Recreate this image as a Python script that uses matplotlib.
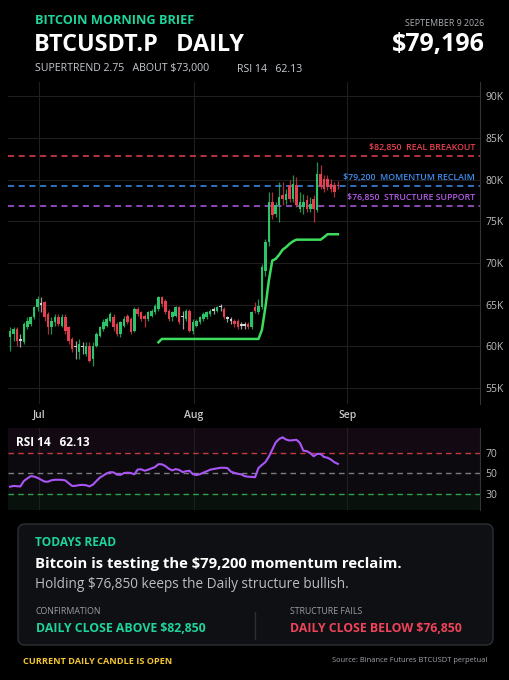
import numpy as np
import matplotlib.pyplot as plt
from matplotlib.patches import FancyBboxPatch

plt.rcParams['font.family'] = ['Open Sans', 'DejaVu Sans']

# daily candles, price in thousands of USD
opens = [61.1, 61.5, 62.1, 60.7, 60.5, 62.3, 62.7, 63.5, 64.7, 65.0,
         65.3, 63.9, 62.3, 62.9, 63.5, 62.5, 63.5, 62.3, 60.9, 59.9,
         59.3, 59.9, 59.1, 60.1, 58.5, 60.1, 61.3, 62.1, 62.5, 63.1,
         63.5, 62.7, 61.5, 62.5, 63.7, 63.3, 61.9, 64.5, 64.1, 63.7,
         63.3, 63.7, 64.1, 64.5, 65.9, 65.5, 64.3, 63.5, 63.7, 64.7,
         63.5, 63.3, 64.3, 61.9, 62.5, 62.9, 63.3, 63.5, 63.9, 64.3,
         64.3, 64.7, 64.5, 63.3, 63.1, 63.1, 63.1, 62.5, 62.5, 62.7,
         62.3, 64.7, 64.1, 64.7, 69.1, 72.5, 77.3, 75.9, 76.9, 78.1,
         77.5, 79.3, 77.7, 79.3, 76.5, 76.7, 77.5, 76.5, 77.7, 76.3,
         80.7, 80.1, 80.1, 79.5, 79.3, 79.4]
closes = [61.9, 62.1, 60.7, 60.8, 62.7, 63.1, 63.5, 64.7, 65.7, 65.1,
          63.5, 62.3, 63.1, 63.5, 62.7, 63.5, 61.9, 60.7, 59.7, 60.0,
          60.3, 60.0, 60.1, 58.3, 60.1, 61.5, 62.3, 62.9, 63.3, 63.9,
          62.3, 61.5, 62.9, 63.3, 62.9, 61.7, 64.5, 63.9, 63.3, 63.3,
          64.1, 64.3, 64.9, 65.9, 65.1, 64.1, 63.3, 64.1, 64.7, 62.9,
          63.6, 64.3, 61.9, 62.9, 63.1, 63.5, 63.9, 64.1, 64.3, 64.4,
          64.7, 64.8, 63.5, 63.4, 63.2, 62.7, 62.3, 62.6, 62.6, 62.3,
          64.1, 64.3, 64.9, 69.5, 72.5, 77.3, 75.7, 76.9, 77.9, 77.7,
          78.3, 77.7, 79.5, 76.9, 77.3, 77.3, 76.5, 77.1, 76.5, 80.7,
          79.1, 78.9, 79.1, 78.9, 78.5, 79.2]
highs = [62.3, 62.3, 62.3, 61.5, 62.9, 63.5, 63.7, 64.9, 66.1, 65.9,
         65.5, 64.1, 63.5, 63.9, 63.9, 63.9, 63.9, 62.5, 61.1, 60.7,
         60.9, 60.5, 60.5, 60.5, 60.5, 61.7, 62.5, 63.3, 63.5, 64.1,
         63.9, 62.9, 63.1, 63.7, 63.9, 63.5, 64.7, 64.7, 64.3, 63.9,
         64.3, 64.5, 65.1, 66.1, 66.1, 65.7, 64.5, 64.3, 64.9, 64.9,
         64.3, 64.5, 64.5, 63.3, 63.3, 63.7, 64.1, 64.3, 64.5, 64.7,
         64.9, 65.1, 64.7, 63.7, 63.5, 63.3, 63.3, 62.9, 62.9, 62.9,
         64.3, 65.3, 65.7, 69.9, 72.9, 78.5, 78.5, 77.3, 79.7, 79.7,
         78.9, 79.9, 80.5, 80.3, 78.5, 78.3, 78.1, 77.9, 78.1, 82.1,
         81.7, 80.5, 80.5, 80.1, 79.7, 79.8]
lows = [59.5, 60.7, 60.1, 59.9, 60.3, 62.1, 62.5, 63.3, 64.3, 64.1,
        63.1, 61.5, 61.5, 62.5, 62.5, 62.3, 61.5, 60.3, 59.3, 58.5,
        58.5, 59.1, 58.9, 58.1, 57.6, 59.9, 61.1, 61.9, 62.3, 62.9,
        61.9, 61.3, 61.1, 62.3, 62.7, 61.5, 61.7, 63.7, 63.1, 62.3,
        63.1, 63.5, 63.9, 64.3, 64.7, 63.9, 63.1, 63.1, 63.5, 62.7,
        62.1, 63.1, 61.7, 61.5, 62.3, 62.7, 63.1, 63.3, 63.7, 63.9,
        64.1, 64.3, 63.3, 62.9, 62.7, 62.3, 62.1, 62.1, 62.1, 62.1,
        62.1, 64.0, 63.9, 64.5, 68.5, 72.1, 75.3, 75.5, 74.9, 76.9,
        77.1, 77.3, 77.3, 76.7, 76.1, 75.9, 76.1, 76.1, 74.9, 76.1,
        78.9, 78.5, 78.7, 78.5, 77.9, 78.9]

# supertrend (2.75), only drawn from the flip onward
supertrend = ([np.nan] * 43 + [60.5] + [60.9] * 29 +
              [62.0, 64.7, 67.9, 70.3, 70.5, 71.0, 71.6, 71.9, 72.3, 72.6,
               72.8, 72.8, 72.8, 72.8, 72.8, 72.8, 72.8, 72.8, 73.1, 73.45,
               73.45, 73.45, 73.45])

rsi = [36.7, 37.5, 37.2, 37.0, 42.3, 44.8, 47.0, 46.6, 45.3, 43.5,
       41.7, 41.6, 43.0, 43.5, 43.5, 43.4, 42.9, 40.1, 37.4, 37.6,
       38.3, 38.5, 38.2, 37.0, 38.7, 42.2, 45.5, 47.6, 49.7, 50.9,
       50.7, 48.5, 48.3, 50.0, 50.4, 50.1, 48.8, 53.5, 53.7, 52.3,
       53.3, 54.6, 55.9, 58.7, 58.6, 56.9, 54.3, 52.6, 53.9, 53.1,
       51.0, 51.8, 52.3, 48.9, 48.1, 48.9, 50.4, 51.8, 53.3, 54.0,
       54.6, 55.2, 55.2, 54.9, 51.4, 50.2, 49.3, 48.8, 47.0, 46.5,
       46.3, 46.0, 55.0, 58.0, 60.7, 66.0, 73.0, 80.0, 83.3, 84.9,
       82.7, 81.8, 82.1, 82.5, 79.5, 71.9, 71.4, 69.5, 66.4, 68.8,
       68.7, 65.7, 65.0, 63.2, 60.6, 59.0]

month_labels = ['Jul', 'Aug', 'Sep']
month_pos = [8.4, 53.3, 97.7]
price_ticks = [55, 60, 65, 70, 75, 80, 85, 90]

levels = [82.85, 79.2, 76.85]
level_prices = ['$82,850', '$79,200', '$76,850']
level_names = ['REAL BREAKOUT', 'MOMENTUM RECLAIM', 'STRUCTURE SUPPORT']
level_colors = ['#e8404f', '#3d8ff0', '#b35be8']

GREEN = '#2bc46a'
RED = '#e5404f'
DOJI = '#d4d4d4'
MINT = '#1fd49b'
GRID = '#1f1f1f'

fig = plt.figure(figsize=(5.1, 6.8), dpi=100, facecolor='black')

# ---- price panel ----
ax = fig.add_axes([8 / 510, 1 - 404 / 680, 472 / 510, 322 / 680])
ax.set_facecolor('black')
x = np.arange(len(opens))
o = np.array(opens); c = np.array(closes)
cols = [DOJI if abs(cc - oo) < 0.15 else (GREEN if cc > oo else RED) for oo, cc in zip(o, c)]
ax.vlines(x, lows, highs, colors=cols, linewidth=0.9, alpha=0.75, zorder=3)
ax.bar(x, np.maximum(np.abs(c - o), 0.18), bottom=np.minimum(o, c), width=0.74,
       color=cols, zorder=4, linewidth=0)
ax.plot(x, supertrend, color='#3ddc5c', linewidth=1.8, zorder=5)

for lv, pr, nm, col in zip(levels, level_prices, level_names, level_colors):
    ax.axhline(lv, color=col, linestyle=(0, (4, 3)), linewidth=1.1, zorder=2)
    ax.annotate(f'{pr}  {nm}', xy=(0.99, lv), xycoords=('axes fraction', 'data'),
                xytext=(0, 3), textcoords='offset points', ha='right', va='bottom',
                color=col, fontsize=6.3, fontweight='semibold', zorder=6)

ax.set_xlim(-0.6, 136.2)
ax.set_ylim(53.1, 91.7)
ax.set_yticks(price_ticks)
ax.set_yticklabels([f'{t}K' for t in price_ticks])
ax.yaxis.tick_right()
ax.set_xticks(month_pos)
ax.set_xticklabels(month_labels)
ax.tick_params(axis='y', length=0, pad=4, labelsize=7.5, labelcolor='#bdbdbd')
ax.tick_params(axis='x', length=0, pad=4, labelsize=7.5, labelcolor='#c8c8c8')
for lb in ax.get_xticklabels():
    lb.set_fontweight('semibold')
ax.grid(True, color=GRID, linewidth=0.8)
for s in ['top', 'left', 'bottom']:
    ax.spines[s].set_visible(False)
ax.spines['right'].set_color('#333333')

# ---- RSI panel ----
ar = fig.add_axes([8 / 510, 1 - 510 / 680, 472 / 510, 82 / 680])
ar.set_facecolor('#0c0a0e')
ar.axhspan(70, 100, color='#130912', zorder=0, linewidth=0)
ar.axhspan(0, 30, color='#08110b', zorder=0, linewidth=0)
ar.axhline(70, color='#c23a42', linestyle=(0, (4, 3)), linewidth=1)
ar.axhline(50, color='#7c7c80', linestyle=(0, (4, 3)), linewidth=1)
ar.axhline(30, color='#2fa24e', linestyle=(0, (4, 3)), linewidth=1)
ar.plot(np.arange(len(rsi)), rsi, color='#aa55f5', linewidth=1.5, zorder=4)
ar.set_xlim(-0.6, 136.2)
ar.set_ylim(14, 94)
ar.set_xticks(month_pos)
ar.set_xticklabels([])
ar.set_yticks([30, 50, 70])
ar.yaxis.tick_right()
ar.tick_params(length=0, pad=4, labelsize=7.5, labelcolor='#bdbdbd')
ar.grid(True, axis='x', color=GRID, linewidth=0.8)
for s in ['top', 'left', 'bottom']:
    ar.spines[s].set_visible(False)
ar.spines['right'].set_color('#333333')
ar.text(0.017, 0.82, 'RSI 14   62.13', transform=ar.transAxes, color='white',
        fontsize=8.5, fontweight='bold', va='center')

# ---- text overlay in pixel units ----
ov = fig.add_axes([0, 0, 1, 1])
ov.set_xlim(0, 510)
ov.set_ylim(680, 0)
ov.axis('off')

ov.text(35, 20, 'BITCOIN MORNING BRIEF', color=MINT, fontsize=9.2, fontweight='bold', va='center')
ov.text(34, 45, 'BTCUSDT.P   DAILY', color='white', fontsize=16.8, fontweight='bold', va='center')
ov.text(35, 69, 'SUPERTREND 2.75   ABOUT $73,000', color='#c8ccd2', fontsize=7.6, va='center')
ov.text(237, 69, 'RSI 14   62.13', color='#c8ccd2', fontsize=7.6, va='center')
ov.text(484, 23, 'SEPTEMBER 9 2026', color='#a8acb2', fontsize=6.4, va='center', ha='right')
ov.text(485, 45, '$79,196', color='white', fontsize=18, fontweight='bold', va='center', ha='right')

card = FancyBboxPatch((18, 524), 475, 121, boxstyle='round,pad=0,rounding_size=7',
                      facecolor='#0e1013', edgecolor='#2c2f35', linewidth=1)
ov.add_patch(card)
ov.text(35, 543, 'TODAYS READ', color=MINT, fontsize=8.6, fontweight='bold', va='center')
ov.text(35, 564, 'Bitcoin is testing the $79,200 momentum reclaim.', color='white',
        fontsize=10.7, fontweight='bold', va='center')
ov.text(35, 584, 'Holding $76,850 keeps the Daily structure bullish.', color='#b9bdc4',
        fontsize=9.8, va='center')
ov.text(36, 611, 'CONFIRMATION', color='#9a9ea6', fontsize=6.3, va='center')
ov.text(36, 628, 'DAILY CLOSE ABOVE $82,850', color=MINT, fontsize=8.8, fontweight='bold', va='center')
ov.plot([255, 255], [612, 639], color='#2c2f35', linewidth=1)
ov.text(290, 611, 'STRUCTURE FAILS', color='#9a9ea6', fontsize=6.3, va='center')
ov.text(290, 628, 'DAILY CLOSE BELOW $76,850', color='#f0435a', fontsize=8.8, fontweight='bold', va='center')
ov.text(23, 661, 'CURRENT DAILY CANDLE IS OPEN', color='#f2c531', fontsize=6.6, fontweight='bold', va='center')
ov.text(487, 661, 'Source: Binance Futures BTCUSDT perpetual', color='#a0a4aa', fontsize=5.4,
        va='center', ha='right')

fig.savefig('out.png', dpi=100, facecolor='black')
